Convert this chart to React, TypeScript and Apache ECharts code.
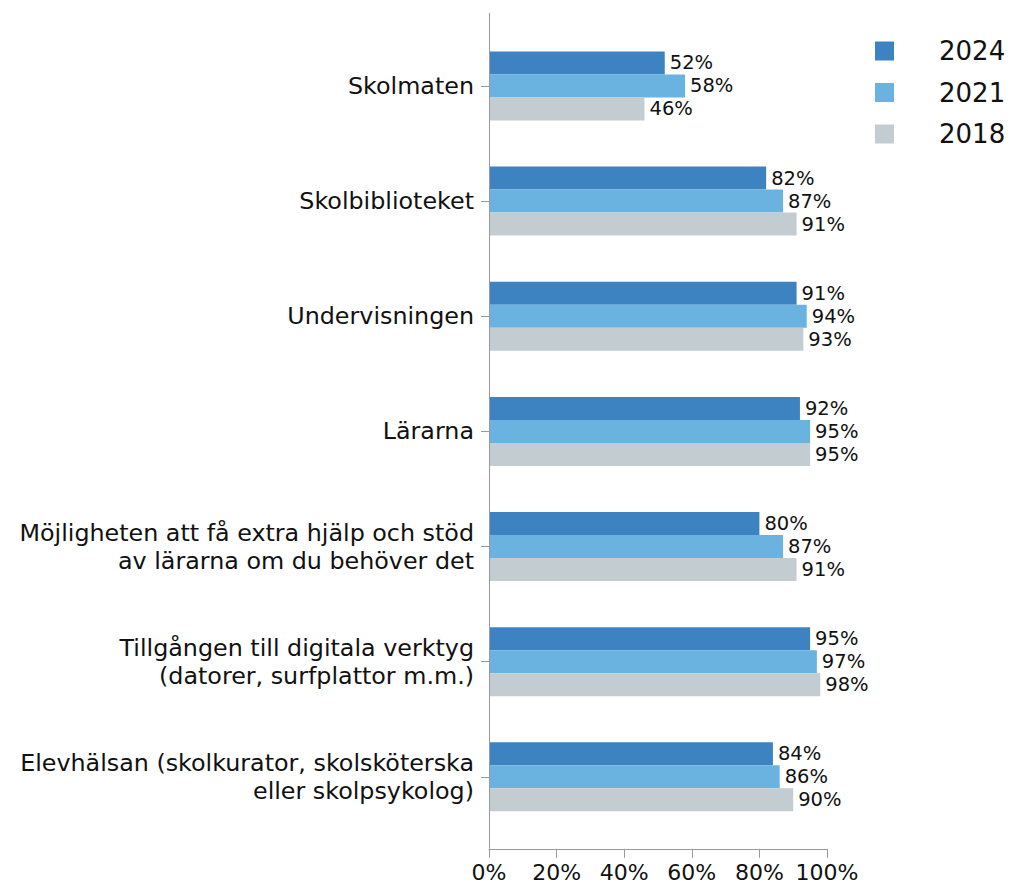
import React, { useEffect, useRef } from "react";
import * as echarts from "echarts";

const categories = [
  "Skolmaten",
  "Skolbiblioteket",
  "Undervisningen",
  "Lärarna",
  "Möjligheten att få extra hjälp och stöd\nav lärarna om du behöver det",
  "Tillgången till digitala verktyg\n(datorer, surfplattor m.m.)",
  "Elevhälsan (skolkurator, skolsköterska\neller skolpsykolog)",
];
const seriesNames = ["2024", "2021", "2018"];
const values2024 = [52, 82, 91, 92, 80, 95, 84];
const values2021 = [58, 87, 94, 95, 87, 97, 86];
const values2018 = [46, 91, 93, 95, 91, 98, 90];
const colors = ["#3D83C1", "#6AB2E0", "#C2CCD1"];

const FONT = "DejaVu Sans";

export default function App() {
  const ref = useRef<HTMLDivElement>(null);
  useEffect(() => {
    document.body.style.margin = "0";
    const chart = echarts.init(ref.current!, null, { renderer: "svg" });
    const data = [values2024, values2021, values2018];
    const gridLeft = 489;
    const gridTop = 28.4;
    const gridHeight = 806;
    chart.setOption({
      animation: false,
      textStyle: { fontFamily: FONT },
      grid: { left: gridLeft, width: 338, top: gridTop, height: gridHeight },
      legend: {
        orient: "vertical",
        left: 875,
        top: 38,
        padding: 0,
        itemWidth: 19,
        itemHeight: 19,
        itemGap: 15.5,
        icon: "rect",
        data: seriesNames,
        textStyle: {
          fontFamily: FONT,
          fontSize: 26,
          color: "#111",
          padding: [0, 0, 0, 40],
        },
      },
      xAxis: {
        type: "value",
        min: 0,
        max: 100,
        interval: 20,
        offset: 14.4,
        axisLine: { show: true, lineStyle: { color: "#9a9a9a", width: 1 } },
        axisTick: { show: true, length: 9, lineStyle: { color: "#9a9a9a" } },
        splitLine: { show: false },
        axisLabel: {
          formatter: "{value}%",
          fontFamily: FONT,
          fontSize: 22,
          color: "#111",
          margin: 13,
        },
      },
      yAxis: {
        type: "category",
        inverse: true,
        data: categories,
        axisLine: { show: false },
        axisTick: {
          show: true,
          alignWithLabel: true,
          length: 8,
          lineStyle: { color: "#9a9a9a" },
        },
        axisLabel: {
          fontFamily: FONT,
          fontSize: 23.8,
          color: "#111",
          margin: 15,
          lineHeight: 28,
          padding: [6, 0, 0, 0],
          align: "right",
        },
      },
      graphic: [
        {
          type: "line",
          shape: { x1: gridLeft + 0.5, y1: 13, x2: gridLeft + 0.5, y2: gridTop + gridHeight + 14.4 },
          style: { stroke: "#9a9a9a", lineWidth: 1 },
          z: 10,
        },
      ],
      series: seriesNames.map((name, i) => ({
        name,
        type: "bar",
        data: data[i],
        barWidth: 23,
        barGap: "0%",
        itemStyle: { color: colors[i] },
        label: {
          show: true,
          position: "right",
          distance: 5,
          formatter: "{c}%",
          fontFamily: FONT,
          fontSize: 19.5,
          color: "#111",
          padding: [0, 0, 3, 0],
        },
      })),
    });
    return () => chart.dispose();
  }, []);
  return <div ref={ref} style={{ width: 1011, height: 887 }} />;
}
